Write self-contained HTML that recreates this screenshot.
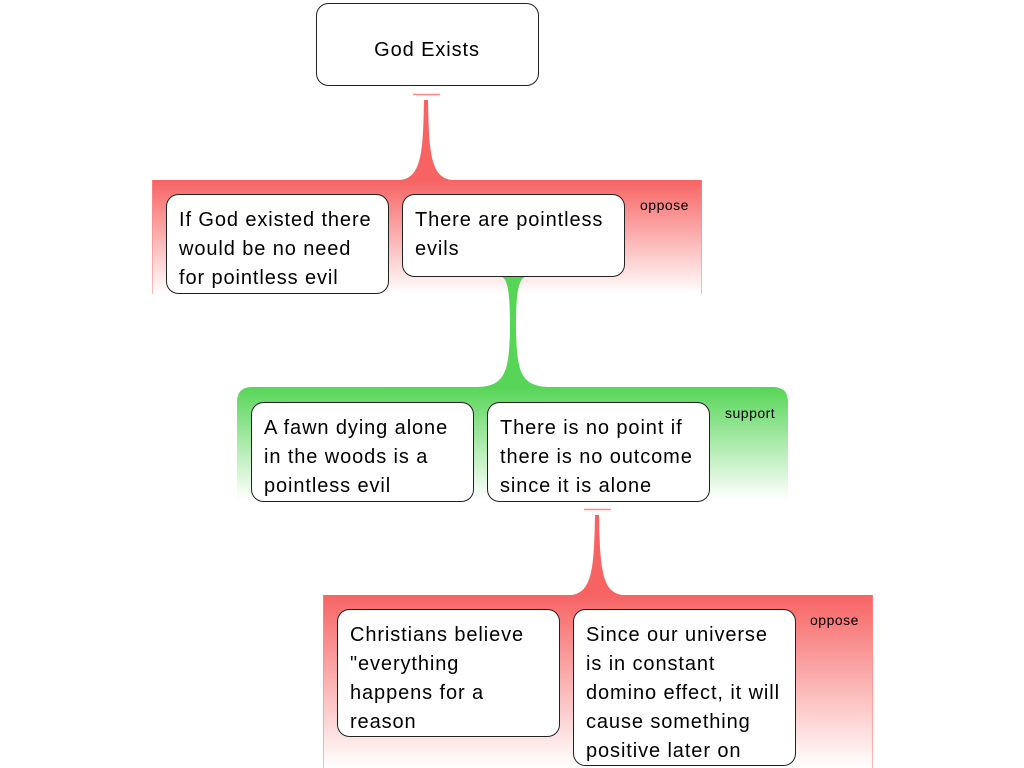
<!DOCTYPE html>
<html><head><meta charset="utf-8"><style>
html,body{margin:0;padding:0;background:#fff;}
svg{display:block;font-family:"Liberation Sans",Arial,sans-serif;}
.t{letter-spacing:0.9px;}
.l{letter-spacing:0.5px;}
</style></head><body>
<svg width="1024" height="768" viewBox="0 0 1024 768" xmlns="http://www.w3.org/2000/svg">
<defs>
<linearGradient id="rg" x1="0" y1="0" x2="0" y2="1">
<stop offset="0" stop-color="#f76363"/><stop offset="1" stop-color="#f76363" stop-opacity="0"/></linearGradient>
<linearGradient id="gg" x1="0" y1="0" x2="0" y2="1">
<stop offset="0" stop-color="#57d557"/><stop offset="1" stop-color="#57d557" stop-opacity="0"/></linearGradient>
</defs>

<rect x="316.5" y="3.5" width="222" height="82" rx="12" fill="#fff" stroke="#222"/>
<text class="t" x="427" y="56" font-size="20" text-anchor="middle">God Exists</text>

<line x1="413" y1="94.5" x2="440" y2="94.5" stroke="#f88" stroke-width="1.5"/>
<path d="M424,100 L428,100 C429,150 430,178 452,180 L400,180 C422,178 423,150 424,100 Z" fill="#f76363"/>
<rect x="152" y="180" width="550" height="114" fill="url(#rg)"/>
<rect x="152" y="180" width="1" height="114" fill="#f88" opacity="0.6"/>
<rect x="701" y="180" width="1" height="114" fill="#f88" opacity="0.6"/>
<text class="l" x="640" y="210" font-size="14">oppose</text>

<rect x="166.5" y="194.5" width="222" height="99" rx="12" fill="#fff" stroke="#222"/>
<text class="t" font-size="20"><tspan x="179" y="226">If God existed there</tspan><tspan x="179" y="255">would be no need</tspan><tspan x="179" y="284">for pointless evil</tspan></text>
<rect x="402.5" y="194.5" width="222" height="82" rx="12" fill="#fff" stroke="#222"/>
<text class="t" font-size="20"><tspan x="415" y="226">There are pointless</tspan><tspan x="415" y="255">evils</tspan></text>

<path d="M502,277 L525,277 C517,280 516,300 516,330 C517,370 520,386 548,387 L478,387 C506,386 509,370 510,330 C510,300 509,280 502,277 Z" fill="#57d557"/>
<path d="M237,500 L237,402 Q237,387 252,387 L773,387 Q788,387 788,402 L788,500 Z" fill="url(#gg)"/>
<text class="l" x="725" y="418" font-size="14">support</text>

<rect x="251.5" y="402.5" width="222" height="99" rx="12" fill="#fff" stroke="#222"/>
<text class="t" font-size="20"><tspan x="264" y="434">A fawn dying alone</tspan><tspan x="264" y="463">in the woods is a</tspan><tspan x="264" y="492">pointless evil</tspan></text>
<rect x="487.5" y="402.5" width="222" height="99" rx="12" fill="#fff" stroke="#222"/>
<text class="t" font-size="20"><tspan x="500" y="434">There is no point if</tspan><tspan x="500" y="463">there is no outcome</tspan><tspan x="500" y="492">since it is alone</tspan></text>

<line x1="584" y1="509.5" x2="611" y2="509.5" stroke="#f88" stroke-width="1.5"/>
<path d="M595,515 L599,515 C600,565 601,593 623,595 L571,595 C593,593 594,565 595,515 Z" fill="#f76363"/>
<rect x="323" y="595" width="550" height="173" fill="url(#rg)"/>
<rect x="323" y="595" width="1" height="173" fill="#f88" opacity="0.6"/>
<rect x="872" y="595" width="1" height="173" fill="#f88" opacity="0.6"/>
<text class="l" x="810" y="625" font-size="14">oppose</text>

<rect x="337.5" y="609.5" width="222" height="127" rx="12" fill="#fff" stroke="#222"/>
<text class="t" font-size="20"><tspan x="350" y="641">Christians believe</tspan><tspan x="350" y="670">"everything</tspan><tspan x="350" y="699">happens for a</tspan><tspan x="350" y="728">reason</tspan></text>
<rect x="573.5" y="609.5" width="222" height="156" rx="12" fill="#fff" stroke="#222"/>
<text class="t" font-size="20"><tspan x="586" y="641">Since our universe</tspan><tspan x="586" y="670">is in constant</tspan><tspan x="586" y="699">domino effect, it will</tspan><tspan x="586" y="728">cause something</tspan><tspan x="586" y="757">positive later on</tspan></text>
</svg>
</body></html>
